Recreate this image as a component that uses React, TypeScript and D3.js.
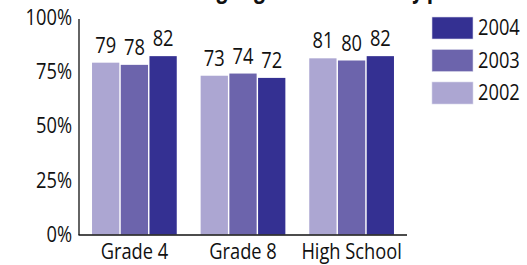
import React from "react";
import * as d3 from "d3";

const title = "Percent Meeting English Standards by public school performance";
const categories = ["Grade 4", "Grade 8", "High School"];
const years = ["2002", "2003", "2004"];
const values2002 = [79, 73, 81];
const values2003 = [78, 74, 80];
const values2004 = [82, 72, 82];
const yTicks = [0, 25, 50, 75, 100];
const legendOrder = ["2004", "2003", "2002"];

const colors: Record<string, string> = {
  "2002": "#aca6d2",
  "2003": "#6c64ac",
  "2004": "#343092",
};

const W = 527;
const H = 265;
const FONT = "'Open Sans', 'Liberation Sans', Arial, sans-serif";
const SX = 0.87;

function T(props: { x: number; y: number; anchor?: string; dy?: string; children: React.ReactNode }) {
  return (
    <text
      transform={`translate(${props.x},${props.y}) scale(${SX},1)`}
      textAnchor={props.anchor || "start"}
      dy={props.dy}
      fontSize={21}
      fill="#111"
    >
      {props.children}
    </text>
  );
}

export default function App() {
  const series: Record<string, number[]> = {
    "2002": values2002,
    "2003": values2003,
    "2004": values2004,
  };
  const x0 = d3.scaleBand<string>().domain(categories).range([79, 407]).paddingInner(0.22).paddingOuter(0.12);
  const x1 = d3.scaleBand<string>().domain(years).range([0, x0.bandwidth()]).paddingInner(0.05);
  const y = d3.scaleLinear().domain([0, 100]).range([234.5, 17]);

  return (
    <svg width={W} height={H} style={{ position: "absolute", left: 0, top: 0, background: "#fff" }} fontFamily={FONT}>
      <text x={75} y={-2} fontSize={24} fontWeight="bold" fill="#111" style={{ fontStretch: "condensed" }}>{title}</text>
      {categories.map((c, i) =>
        years.map((yr) => {
          const v = series[yr][i];
          const bx = (x0(c) as number) + (x1(yr) as number);
          return (
            <g key={c + yr}>
              <rect x={bx} y={y(v)} width={x1.bandwidth()} height={y(0) - y(v)} fill={colors[yr]} />
              <T x={bx + x1.bandwidth() / 2} y={y(v) - 10} anchor="middle">{v}</T>
            </g>
          );
        })
      )}
      <line x1={79} x2={79} y1={19} y2={235} stroke="#111" strokeWidth={1.3} />
      <line x1={78.5} x2={407} y1={235} y2={235} stroke="#111" strokeWidth={1.3} />
      {yTicks.map((t) => (
        <T key={t} x={72} y={y(t)} dy="0.36em" anchor="end">{t}%</T>
      ))}
      {categories.map((c) => (
        <T key={c} x={(x0(c) as number) + x0.bandwidth() / 2} y={259} anchor="middle">{c}</T>
      ))}
      {legendOrder.map((yr, i) => (
        <g key={yr}>
          <rect x={432} y={17 + i * 32.5} width={41} height={22} fill={colors[yr]} stroke="#d8d6ea" strokeWidth={0.6} />
          <T x={478} y={35 + i * 32.5}>{yr}</T>
        </g>
      ))}
    </svg>
  );
}
